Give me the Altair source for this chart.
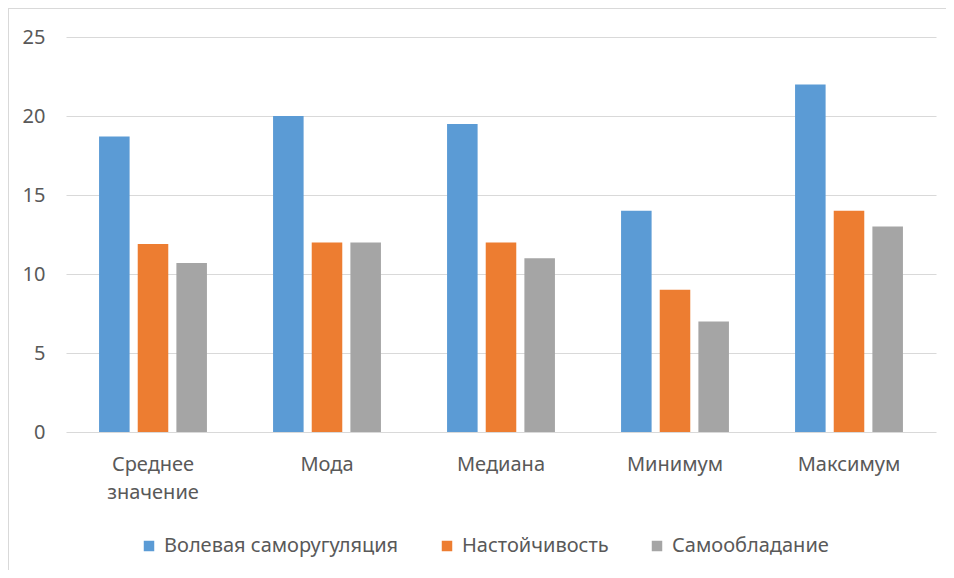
import altair as alt
import pandas as pd

categories = ["Среднее значение", "Мода", "Медиана", "Минимум", "Максимум"]
series = ["Волевая саморугуляция", "Настойчивость", "Самообладание"]
volevaya = [18.7, 20, 19.5, 14, 22]
nastoychivost = [11.9, 12, 12, 9, 14]
samoobladanie = [10.7, 12, 11, 7, 13]
colors = ["#5B9BD5", "#ED7D31", "#A5A5A5"]
y_ticks = [0, 5, 10, 15, 20, 25]

rows = []
for vals, s in zip([volevaya, nastoychivost, samoobladanie], series):
    for c, v in zip(categories, vals):
        rows.append({"cat": c, "series": s, "value": v})
df = pd.DataFrame(rows)

FONT = "Noto Sans"
FS = 20
W, H = 870, 395

bars = alt.Chart(df).mark_bar().encode(
    x=alt.X("cat:N", sort=categories,
            scale=alt.Scale(paddingInner=0.38, paddingOuter=0.19),
            axis=alt.Axis(title=None, labelAngle=0, domain=False, ticks=False,
                          labelExpr="split(datum.label, ' ')",
                          labelLineHeight=28, labelPadding=22,
                          labelFontSize=FS, labelColor="#595959", labelFont=FONT)),
    xOffset=alt.XOffset("series:N", sort=series,
                        scale=alt.Scale(paddingInner=0.21, paddingOuter=0)),
    y=alt.Y("value:Q", scale=alt.Scale(domain=[0, 25]),
            axis=alt.Axis(title=None, values=y_ticks, domain=False, ticks=False,
                          labelPadding=21, labelFontSize=FS, labelColor="#595959",
                          labelFont=FONT, gridColor="#d9d9d9", gridWidth=1)),
    color=alt.Color("series:N", sort=series,
                    scale=alt.Scale(domain=series, range=colors),
                    legend=alt.Legend(title=None, orient="none", direction="horizontal",
                                      legendX=73, legendY=499,
                                      symbolType="square", symbolSize=110,
                                      symbolStrokeWidth=0, columnPadding=38,
                                      labelLimit=0,
                                      labelFontSize=FS, labelColor="#595959",
                                      labelFont=FONT, labelOffset=5)),
)

border_top = alt.Chart(pd.DataFrame({"a": [0]})).mark_rule(color="#d9d9d9", strokeWidth=1).encode(
    x=alt.value(-62), x2=alt.value(W + 40), y=alt.value(-28.5))
border_left = alt.Chart(pd.DataFrame({"a": [0]})).mark_rule(color="#d9d9d9", strokeWidth=1).encode(
    x=alt.value(-57.5), y=alt.value(-29), y2=alt.value(H + 200))

chart = alt.layer(bars, border_top, border_left).properties(
    width=W, height=H,
    padding={"left": 58, "top": 29, "right": 10, "bottom": 138},
    autosize=alt.AutoSizeParams(type="none"),
).configure(background="white").configure_view(strokeWidth=0)

chart.save("out.html", embed_options={"renderer": "svg", "actions": False})
